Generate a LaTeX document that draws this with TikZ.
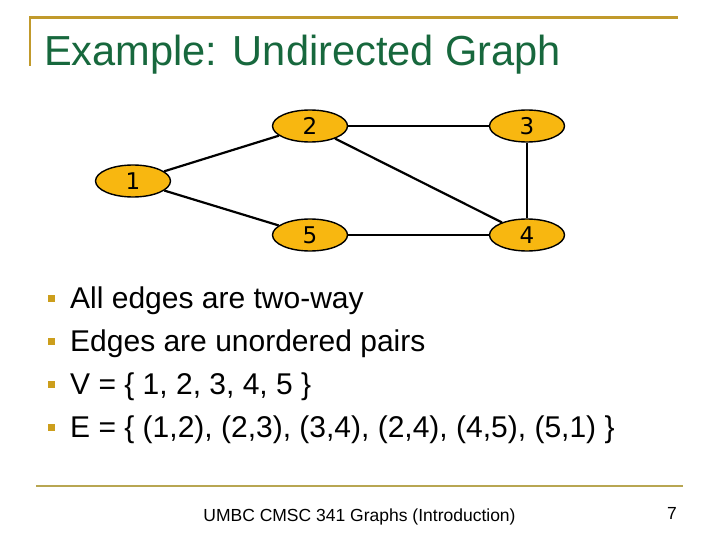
\documentclass[tikz,border=0pt]{standalone}
\usepackage{fontspec}
\setmainfont{Liberation Sans}
\newfontfamily\nodefont{DejaVu Sans}
\usetikzlibrary{shapes.geometric}
\definecolor{titlegreen}{HTML}{17683D}
\definecolor{goldline}{HTML}{C19A2C}
\definecolor{footline}{HTML}{B8A652}
\definecolor{bulletgold}{HTML}{CC9E1C}
\definecolor{nodefill}{HTML}{F8B710}
\tikzset{
  vertex/.style={ellipse, draw=black, line width=1.4pt, fill=nodefill,
    minimum width=75pt, minimum height=32pt, inner sep=0pt,
    font=\nodefont\fontsize{23}{23}\selectfont},
  edge/.style={draw=black, line width=2.2pt},
  bullettext/.style={anchor=base west, font=\fontsize{30}{30}\selectfont},
  bulletsq/.style={fill=bulletgold, minimum size=7pt, inner sep=0pt}
}
\begin{document}
\begin{tikzpicture}[x=1pt,y=-1pt]
\useasboundingbox (0,0) rectangle (720,540);
% header rule
\draw[goldline, line width=2.2pt] (30,17.5) -- (678,17.5);
\draw[goldline, line width=2.2pt] (30,16.4) -- (30,66);
\node[anchor=base west, text=titlegreen, font=\fontsize{42}{42}\selectfont, inner sep=0pt, xscale=0.99] (title) at (44,66) {Example: Undirected Graph};
% graph
\node[vertex] (n1) at (133,181) {1};
\node[vertex] (n2) at (310,126) {2};
\node[vertex] (n3) at (527,126) {3};
\node[vertex] (n4) at (527,235) {4};
\node[vertex] (n5) at (310,235) {5};
\draw[edge] (n1) -- (n2);
\draw[edge] (n2) -- (n3);
\draw[edge] (n3) -- (n4);
\draw[edge] (n2) -- (n4);
\draw[edge] (n4) -- (n5);
\draw[edge] (n5) -- (n1);
% bullets
\node[bulletsq] (b1) at (51,298) {};
\node[bulletsq] (b2) at (51,341) {};
\node[bulletsq] (b3) at (51,384) {};
\node[bulletsq] (b4) at (51,427) {};
\node[bullettext, inner sep=0pt] (t1) at (70,308) {All edges are two-way};
\node[bullettext, inner sep=0pt] (t2) at (70,351) {Edges are unordered pairs};
\node[bullettext, inner sep=0pt] (t3) at (70,394) {V = \{ 1, 2, 3, 4, 5 \}};
\node[bullettext, inner sep=0pt] (t4) at (70,437) {E = \{ (1,2), (2,3), (3,4), (2,4), (4,5), (5,1) \}};
% footer
\draw[footline, line width=2pt] (36,486) -- (683,486);
\node[anchor=base, font=\fontsize{17.5}{18}\selectfont, inner sep=0pt] (foot) at (359.5,521) {UMBC CMSC 341 Graphs (Introduction)};
\node[anchor=base, font=\fontsize{17.5}{18}\selectfont, inner sep=0pt] (page) at (672,519) {7};
\end{tikzpicture}
\end{document}
